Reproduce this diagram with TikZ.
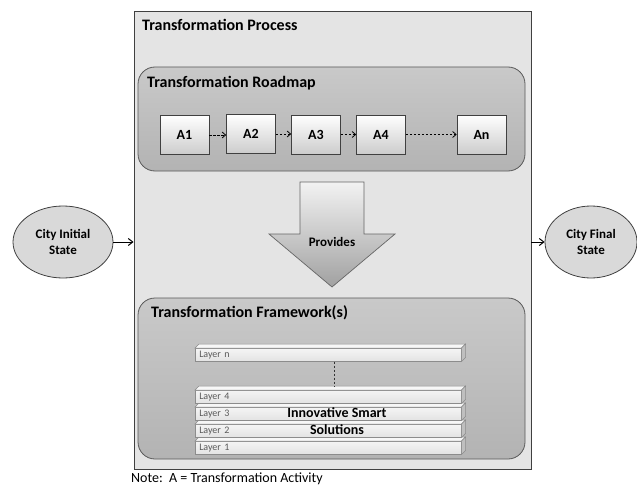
\documentclass[tikz,border=0pt]{standalone}
\usepackage{fontspec}
\setmainfont{Carlito}
\usetikzlibrary{shapes.geometric,arrows.meta,calc}
\definecolor{outerfill}{HTML}{E4E4E4}
\definecolor{edgedark}{HTML}{404040}
\definecolor{panelTop}{HTML}{C9C9C9}
\definecolor{panelBot}{HTML}{B3B3B3}
\definecolor{stateFill}{HTML}{D9D9D9}
\definecolor{layerTxt}{HTML}{5A5A5A}
\tikzset{
  outerbox/.style={draw=edgedark, fill=outerfill, line width=0.9pt, minimum width=397pt, minimum height=458pt, inner sep=0pt},
  panel/.style={draw=black!65, top color=panelTop, bottom color=panelBot, rounded corners=17pt, line width=0.8pt, inner sep=0pt},
  actbox/.style={draw=edgedark, top color=white, bottom color=black!20, minimum width=49pt, minimum height=39pt, font=\bfseries\fontsize{14}{15}\selectfont, line width=0.6pt},
  state/.style={ellipse, draw=edgedark, fill=stateFill, line width=0.8pt, align=center, font=\bfseries\fontsize{13}{16}\selectfont, inner sep=0pt},
  flow/.style={-{Straight Barb[length=4.5pt,width=7pt]}, line width=1pt, draw=black},
  dflow/.style={-{Straight Barb[length=3.5pt,width=6pt]}, dash pattern=on 2.5pt off 1.5pt, line width=0.8pt, draw=black},
  title/.style={anchor=west, font=\bfseries\fontsize{16}{18}\selectfont, inner sep=0pt},
  slab/.style={draw=black!45, top color=black!4, bottom color=black!11, minimum width=266pt, minimum height=13pt, anchor=north west, inner sep=0pt, text width=258pt, align=left, font=\fontsize{10}{11}\selectfont, text=layerTxt, line width=0.5pt},
  slabtop/.style={draw=black!45, fill=black!3, line width=0.5pt},
  slabside/.style={draw=black!45, fill=black!25, line width=0.5pt},
  boldmid/.style={font=\bfseries\fontsize{14}{15}\selectfont, inner sep=0pt}
}
\newcommand{\slabfaces}[1]{%
  \draw[slabtop] (#1.north west) -- ++(4,-4) -- ($(#1.north east)+(4,-4)$) -- (#1.north east) -- cycle;
  \draw[slabside] (#1.north east) -- ++(4,-4) -- ($(#1.south east)+(4,-4)$) -- (#1.south east) -- cycle;
}
\begin{document}
\begin{tikzpicture}[x=1pt,y=-1pt]
\useasboundingbox (0,0) rectangle (637,487);
% outer box
\node[outerbox] (outer) at (332.5,240) {};
\node[title] (ttl) at (142,25) {Transformation Process};
% roadmap
\node[panel, minimum width=387pt, minimum height=104pt] (road) at (331.5,119) {};
\node[title] (roadttl) at (147,83) {Transformation Roadmap};
\node[actbox] (a1) at (184.5,135) {A1};
\node[actbox] (a2) at (251,134) {A2};
\node[actbox] (a3) at (316,134.5) {A3};
\node[actbox] (a4) at (381,134.5) {A4};
\node[actbox] (an) at (481.5,134.5) {An};
\draw[dflow] (a1.east) -- (a2.west |- a1.east);
\draw[dflow] (a2.east) -- (a3.west |- a2.east);
\draw[dflow] (a3.east) -- (a4.west |- a3.east);
\draw[dflow] (a4.east) -- (an.west |- a4.east);
% big arrow
\draw[draw=black!60, line width=0.7pt, top color=black!5, bottom color=black!37]
  (300,182) -- (364,182) -- (364,234) -- (395,234) -- (332,287) -- (269,234) -- (300,234) -- cycle;
\node[boldmid, font=\bfseries\fontsize{13}{14}\selectfont] (prov) at (332,242) {Provides};
% framework
\node[panel, minimum width=387pt, minimum height=161pt] (frame) at (331.5,378.5) {};
\node[title] (framettl) at (151,313) {Transformation Framework(s)};
% layers
\node[slab] (l1) at (195,441) {Layer 1};
\slabfaces{l1}
\node[slab] (l2) at (195,424) {Layer 2};
\slabfaces{l2}
\node[slab] (l3) at (195,407) {Layer 3};
\slabfaces{l3}
\node[slab] (l4) at (195,390) {Layer 4};
\slabfaces{l4}
\node[slab] (ln) at (195,348) {Layer n};
\slabfaces{ln}
\coordinate (lnb) at ($(ln.south)+(6,0)$);
\coordinate (l4t) at ($(l4.north)+(6,-4)$);
\draw[dash pattern=on 2.5pt off 1.5pt, line width=0.9pt, draw=black!80] (lnb) -- (l4t);
\node[boldmid] (inno) at (337,412.5) {Innovative Smart};
\node[boldmid] (sol) at (337,429.5) {Solutions};
% states
\node[state, minimum width=100pt, minimum height=72pt] (init) at (63,242) {City Initial\\State};
\node[state, minimum width=92pt, minimum height=72pt] (final) at (591,242) {City Final\\State};
\draw[flow] (init.east) -- (init.east -| outer.west);
\draw[flow] (final.west -| outer.east) -- (final.west);
% note
\node[anchor=west, inner sep=0pt, font=\fontsize{14}{16}\selectfont] (note) at (131,479) {Note:\ \ A = Transformation Activity};
\end{tikzpicture}
\end{document}
